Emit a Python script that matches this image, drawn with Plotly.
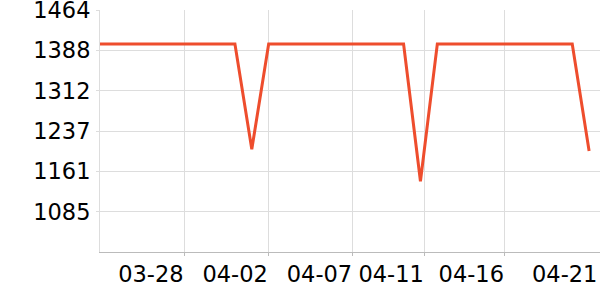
import plotly.graph_objects as go
import pandas as pd

# ---- data ----
dates = pd.date_range("2024-03-23", periods=30, freq="D")
values = [1400] * 9 + [1202] + [1400] * 9 + [1142] + [1400] * 9 + [1199]

x_tick_anchors = ["2024-03-28 00:00", "2024-04-02 00:00", "2024-04-07 00:00",
                  "2024-04-11 06:00", "2024-04-16 00:00", "2024-04-21 13:00"]
x_tick_labels = ["03-28", "04-02", "04-07", "04-11", "04-16", "04-21"]
x_grid_count = 5

y_tick_vals = [1084.83, 1160.67, 1236.5, 1312.33, 1388.17, 1464]
y_tick_labels = ["1085", "1161", "1237", "1312", "1388", "1464"]
y_range = [1009, 1464.05]
x_range = ["2024-03-23 00:00", "2024-04-21 15:30"]

# ---- styles ----
LINE = "#EE4D2D"
GRID = "#dddddd"
AXIS = "#bbbbbb"
FONT = dict(family="DejaVu Sans", size=22.5, color="#000000")

anchors = pd.to_datetime(x_tick_anchors, format="%Y-%m-%d %H:%M")
label_offset = pd.Timedelta(days=33.5 / 16.866)
label_pos = anchors - label_offset

fig = go.Figure()
fig.add_trace(go.Scatter(x=dates, y=values, mode="lines",
                         line=dict(color=LINE, width=3), showlegend=False,
                         hoverinfo="skip", xaxis="x", yaxis="y"))
fig.add_trace(go.Scatter(x=dates, y=values, mode="lines",
                         line=dict(color=LINE, width=0), opacity=0,
                         showlegend=False, hoverinfo="skip",
                         xaxis="x2", yaxis="y"))

fig.update_layout(
    width=600, height=300,
    margin=dict(l=100, r=0, t=10, b=48, autoexpand=False),
    paper_bgcolor="white", plot_bgcolor="white",
    font=FONT,
    xaxis=dict(type="date", range=x_range, tickvals=list(anchors[:x_grid_count]),
               showticklabels=False, showgrid=True, gridcolor=GRID, gridwidth=1,
               ticks="outside", ticklen=3, tickcolor=AXIS, automargin=False,
               showline=True, linecolor=AXIS, linewidth=1, zeroline=False),
    xaxis2=dict(type="date", range=x_range, overlaying="x", anchor="y",
                side="bottom", tickvals=list(label_pos), ticktext=x_tick_labels,
                showgrid=False, ticks="", showline=False, zeroline=False,
                automargin=False,
                tickfont=FONT, ticklabelstandoff=6, ticklabeloverflow="allow"),
    yaxis=dict(range=y_range, tickvals=y_tick_vals, ticktext=y_tick_labels,
               showgrid=True, gridcolor=GRID, gridwidth=1, automargin=False,
               ticks="outside", ticklen=3, tickcolor=GRID,
               showline=True, linecolor=GRID, linewidth=1, zeroline=False,
               tickfont=FONT, ticklabelstandoff=1, ticklabeloverflow="allow"),
)

fig.write_html("out.html")
